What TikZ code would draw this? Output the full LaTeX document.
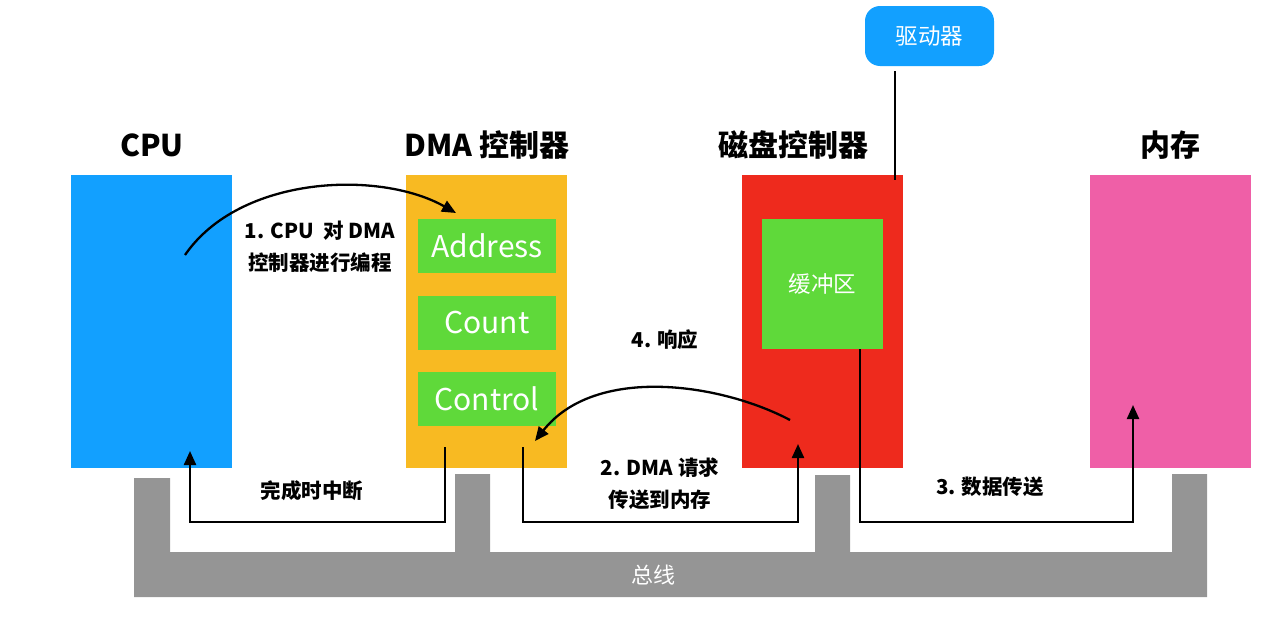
\documentclass[tikz,border=0pt]{standalone}
\usepackage{fontspec}
\setmainfont{Noto Sans CJK SC}
\usetikzlibrary{positioning, arrows.meta}
\definecolor{cpublue}{RGB}{18,160,255}
\definecolor{dmaorange}{RGB}{248,186,34}
\definecolor{diskred}{RGB}{238,42,29}
\definecolor{mempink}{RGB}{239,95,167}
\definecolor{reggreen}{RGB}{95,217,58}
\definecolor{busgray}{RGB}{149,149,149}

\begin{document}
\begin{tikzpicture}[x=1pt,y=-1pt,>={Triangle[length=14pt,width=12pt]},
  unit/.style={inner sep=0pt,minimum width=161pt,minimum height=293pt},
  reg/.style={fill=reggreen,inner sep=0pt,minimum width=138pt,minimum height=54pt,text=white,font=\fontsize{30}{32}\selectfont},
  title/.style={font=\bfseries\fontsize{30}{34}\selectfont},
  lbl/.style={font=\bfseries\fontsize{20.5}{32}\selectfont,align=center},
  link/.style={line width=2.3pt}]
\useasboundingbox (0,0) rectangle (1280,624);

% bus
\fill[busgray](134,478)--(170,478)--(170,552)--(455,552)--(455,474)--(490,474)--(490,552)
  --(815,552)--(815,475)--(850,475)--(850,552)--(1172,552)--(1172,474)--(1207,474)--(1207,597)--(134,597)--cycle;
\node[text=white,font=\fontsize{22}{24}\selectfont] (bus) at (653,575) {总线};

% units
\node[unit,fill=cpublue] (cpu) at (151.5,321.5) {};
\node[unit,fill=dmaorange] (dma) at (486.5,321.5) {};
\node[unit,fill=diskred] (disk) at (822,321.5) {};
\node[unit,fill=mempink] (mem) at (1170,321.5) {};
\node[title] (cputitle) at (152,145) {CPU};
\node[title] (dmatitle) at (487,145) {DMA 控制器};
\node[title] (disktitle) at (793,145) {磁盘控制器};
\node[title] (memtitle) at (1170,145) {内存};

\node[reg] (addr) at (487,246) {Address};
\node[reg] (count) at (487,322.5) {Count};
\node[reg] (ctrl) at (487,398.5) {Control};
\node[fill=reggreen,inner sep=0pt,minimum width=121pt,minimum height=130pt,text=white,
  font=\fontsize{22.5}{24}\selectfont] (buf) at (822.5,284) {缓冲区};

\node[fill=cpublue,rounded corners=15pt,inner sep=0pt,minimum width=129pt,minimum height=60pt,
  text=white,font=\fontsize{22.5}{24}\selectfont] (drv) at (929.5,36) {驱动器};
\draw[link]([xshift=30pt,yshift=-5pt]drv.south west)--([xshift=30pt,yshift=-5pt]drv.south west |- disk.north);

% 1. program
\coordinate (c1) at (185,255);
\coordinate (c2) at (456,213);
\draw[link,->](c1).. controls (240,175) and (380,170) ..(c2);
\node[lbl] (l1) at (320,247) {1. CPU\ \ 对 DMA\\控制器进行编程};

% interrupt
\coordinate (d1) at (445,447);
\coordinate (p1) at (190,451);
\draw[link,->](d1)--(445,522)--(190,522)--(p1);
\node[lbl] (l0) at (312,491) {完成时中断};

% 2. request
\coordinate (d2) at (523,447);
\coordinate (k1) at (798,444);
\draw[link,->](d2)--(523,522)--(798,522)--(k1);
\node[lbl] (l2) at (660,484) {2. DMA 请求\\传送到内存};

% 4. ack
\coordinate (k2) at (790,420);
\coordinate (d3) at (535,441);
\draw[link,->](k2).. controls (720,383) and (595,365) ..(d3);
\node[lbl] (l4) at (665,340) {4. 响应};

% 3. data
\coordinate (b1) at (860,349);
\coordinate (m1) at (1133,405);
\draw[link,->](b1)--(860,522)--(1133,522)--(m1);
\node[lbl] (l3) at (990,487) {3. 数据传送};
\end{tikzpicture}
\end{document}
